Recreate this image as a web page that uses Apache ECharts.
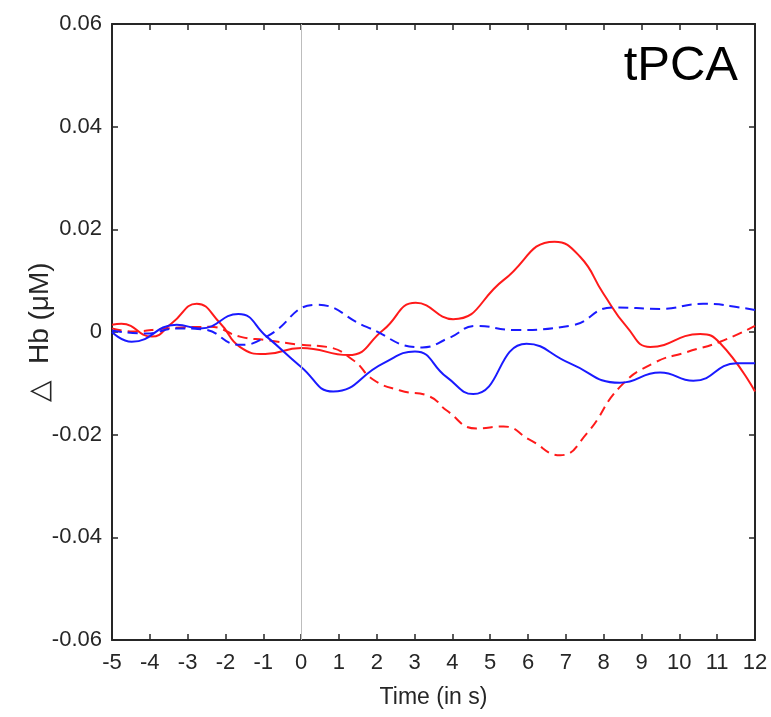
<!DOCTYPE html>
<html>
<head>
<meta charset="utf-8">
<script src="https://cdn.jsdelivr.net/npm/echarts@6/dist/echarts.min.js"></script>
<style>html,body{margin:0;padding:0;background:#fff}#c{width:771px;height:717px}</style>
</head>
<body>
<div id="c"></div>
<script>
var redSolidT  = [-5,-4.75,-3.95,-3.42,-2.76,-2.14,-1.62,-0.95,0,1.25,2.17,3.03,4.02,5.35,6.7,7.37,7.99,8.61,9.23,10.55,11.08,12];
var redSolidV  = [0.0014,0.0016,-0.0009,0.0017,0.0055,0.0017,-0.0029,-0.0043,-0.0031,-0.0045,0.0004,0.0057,0.0025,0.0101,0.0176,0.0147,0.0075,0.0010,-0.0029,-0.0004,-0.0022,-0.0116];
var redDashT   = [-5,-4.45,-3.55,-2.41,-1.62,-0.91,0,0.68,1.38,1.91,2.62,3.41,3.85,4.64,5.35,6.05,6.85,7.55,8.43,9.31,10.2,11.08,12];
var redDashV   = [0.0007,0.0001,0.0007,0.0010,-0.0009,-0.0016,-0.0025,-0.0029,-0.0055,-0.0093,-0.0114,-0.0126,-0.0153,-0.0188,-0.0184,-0.0210,-0.0240,-0.0198,-0.0107,-0.0061,-0.0039,-0.0019,0.0012];
var blueSolidT = [-5,-4.48,-3.29,-2.67,-1.66,-0.91,0,0.85,2.17,3.01,3.85,4.55,5.96,7.11,8.43,9.49,10.37,11.52,12];
var blueSolidV = [0.0000,-0.0019,0.0014,0.0007,0.0035,-0.0009,-0.0068,-0.0116,-0.0061,-0.0038,-0.0088,-0.0121,-0.0023,-0.0061,-0.0099,-0.0079,-0.0095,-0.0061,-0.0061];
var blueDashT  = [-5,-4.1,-3.29,-2.6,-1.61,-0.91,0.41,1.73,3.2,3.9,4.64,5.61,7.11,8.26,9.49,10.63,11.78,12];
var blueDashV  = [0.0003,-0.0003,0.0007,0.0005,-0.0025,-0.0009,0.0053,0.0010,-0.0030,-0.0012,0.0012,0.0004,0.0012,0.0048,0.0045,0.0055,0.0046,0.0043];
var xTicks = [-5,-4,-3,-2,-1,0,1,2,3,4,5,6,7,8,9,10,11,12];
var yTicks = [-0.06,-0.04,-0.02,0,0.02,0.04,0.06];

function pairs(ts, vs){ return ts.map(function(t,i){ return [t, vs[i]]; }); }

var axisColor = '#262626';
var font = '"Liberation Sans", Arial, sans-serif';
var chart = echarts.init(document.getElementById('c'), null, {renderer:'canvas'});
function mkLine(name, ts, vs, color, dashed, extra){
  var s = {
    name: name, type: 'line', data: pairs(ts, vs), smooth: 0.5, showSymbol: false, symbol: 'none',
    lineStyle: {color: color, width: 2, type: dashed ? [10,6] : 'solid'},
    z: 3
  };
  if (extra) for (var k in extra) s[k] = extra[k];
  return s;
}
var tickStyle = {show: true, inside: true, length: 6, lineStyle: {color: axisColor, width: 1.5}};
var lineStyleAx = {show: true, onZero: false, lineStyle: {color: axisColor, width: 2}};
chart.setOption({
  animation: false,
  backgroundColor: '#fff',
  grid: {left: 112, right: 16, top: 24, bottom: 77, containLabel: false, outerBoundsMode: 'none'},
  xAxis: [{
    type: 'value', min: xTicks[0], max: xTicks[xTicks.length-1], interval: 1, position: 'bottom',
    axisLine: lineStyleAx, axisTick: tickStyle,
    axisLabel: {color: axisColor, fontSize: 22, fontFamily: font, margin: 12},
    splitLine: {show: false},
    name: 'Time (in s)', nameLocation: 'middle', nameGap: 46,
    nameTextStyle: {color: axisColor, fontSize: 23, fontFamily: font}
  },{
    type: 'value', min: xTicks[0], max: xTicks[xTicks.length-1], interval: 1, position: 'top',
    axisLine: lineStyleAx, axisTick: tickStyle,
    axisLabel: {show: false}, splitLine: {show: false}
  }],
  yAxis: [{
    type: 'value', min: yTicks[0], max: yTicks[yTicks.length-1], interval: 0.02, position: 'left',
    axisLine: lineStyleAx, axisTick: tickStyle,
    axisLabel: {color: axisColor, fontSize: 22, fontFamily: font, margin: 10,
      formatter: function(v){ return Math.abs(v) < 1e-9 ? '0' : v.toFixed(2); }},
    splitLine: {show: false},
    name: '\u25B3  Hb (\u03BCM)', nameLocation: 'middle', nameGap: 58, nameRotate: 90,
    nameMoveOverlap: false,
    nameTextStyle: {color: axisColor, fontSize: 28, fontFamily: font}
  },{
    type: 'value', min: yTicks[0], max: yTicks[yTicks.length-1], interval: 0.02, position: 'right',
    axisLine: lineStyleAx, axisTick: tickStyle,
    axisLabel: {show: false}, splitLine: {show: false}
  }],
  graphic: [{
    type: 'text', right: 33, top: 42,
    style: {text: 'tPCA', fill: '#000', font: '49px "Liberation Sans", Arial, sans-serif'}
  }],
  series: [
    mkLine('redSolid', redSolidT, redSolidV, '#ff1a1a', false, {
      markLine: {silent: true, symbol: 'none', label: {show: false},
        lineStyle: {color: '#bdbdbd', width: 1, type: 'solid'},
        data: [{xAxis: 0}]}
    }),
    mkLine('redDashed', redDashT, redDashV, '#ff1a1a', true),
    mkLine('blueSolid', blueSolidT, blueSolidV, '#1a1aff', false),
    mkLine('blueDashed', blueDashT, blueDashV, '#1a1aff', true)
  ]
});
</script>
</body>
</html>
